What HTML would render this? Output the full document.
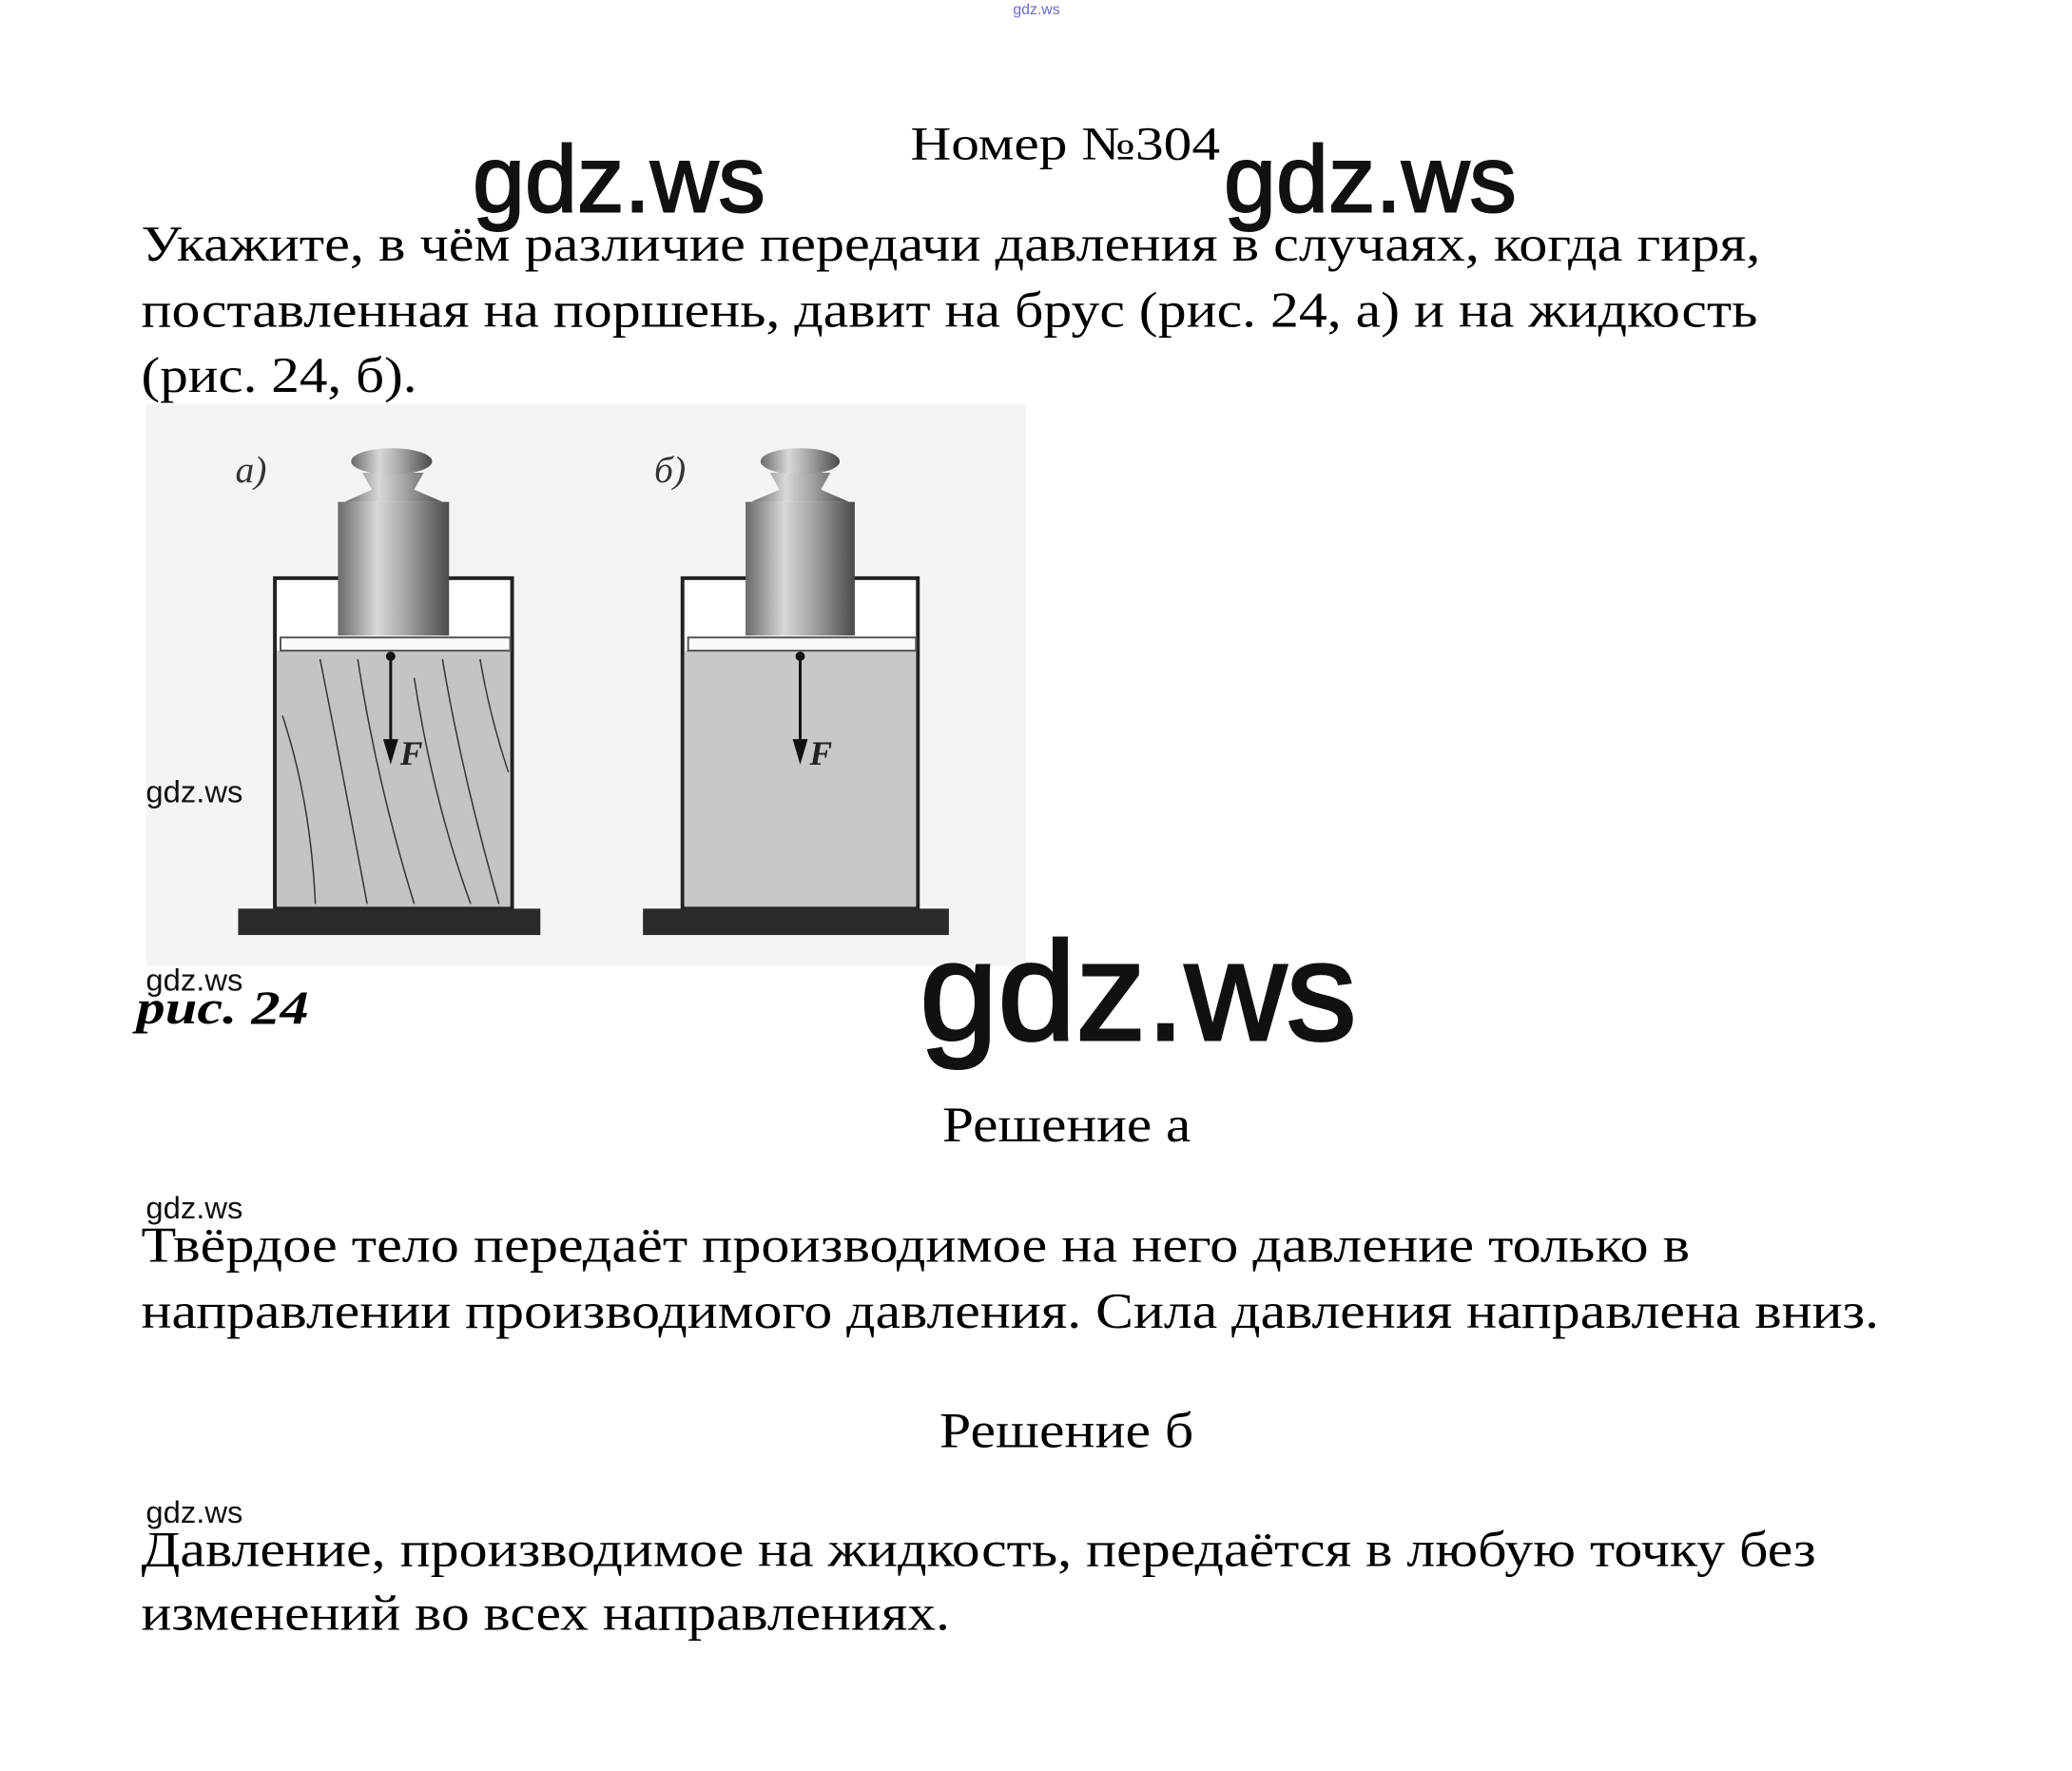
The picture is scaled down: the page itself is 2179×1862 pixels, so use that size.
<!DOCTYPE html>
<html><head><meta charset="utf-8"><style>html,body{margin:0;padding:0;background:#fff}svg{display:block}</style></head>
<body>
<svg width="2179" height="1862" viewBox="0 0 2179 1862" xmlns="http://www.w3.org/2000/svg">
<defs>
<linearGradient id="cyl" x1="0" x2="1" y1="0" y2="0">
<stop offset="0" stop-color="#6a6a6a"/><stop offset="0.35" stop-color="#d8d8d8"/><stop offset="0.6" stop-color="#a8a8a8"/><stop offset="1" stop-color="#4a4a4a"/>
</linearGradient>
</defs>
<g transform="scale(0.99)">
<g font-family="Liberation Serif, serif" fill="#000">
<text x="1101" y="15" font-family="Liberation Sans, sans-serif" font-size="16" fill="#6a6ad0" text-anchor="middle">gdz.ws</text>
<text x="967" y="169" font-size="50" textLength="329" lengthAdjust="spacingAndGlyphs">Номер №304</text>
<text x="150" y="277" font-size="53" textLength="1720" lengthAdjust="spacingAndGlyphs">Укажите, в чём различие передачи давления в случаях, когда гиря,</text>
<text x="150" y="347" font-size="53" textLength="1717" lengthAdjust="spacingAndGlyphs">поставленная на поршень, давит на брус (рис. 24, а) и на жидкость</text>
<text x="150" y="416" font-size="53" textLength="293" lengthAdjust="spacingAndGlyphs">(рис. 24, б).</text>
</g>
<rect x="155" y="429" width="935" height="597" fill="#f4f4f4"/>
<g font-family="Liberation Serif, serif" font-style="italic" font-size="40" fill="#333">
<text x="250" y="512">а)</text><text x="695" y="512">б)</text>
</g>
<rect x="292" y="614" width="252" height="350" fill="#fff" stroke="#222" stroke-width="4"/>
<rect x="294" y="691" width="248" height="272" fill="#c4c4c4"/>
<g fill="none" stroke="#333" stroke-width="1.5">
<path d="M300 760 Q330 850 335 960"/><path d="M340 700 Q360 800 390 960"/><path d="M380 700 Q400 830 440 960"/>
<path d="M440 720 Q460 850 500 960"/><path d="M470 700 Q490 820 530 960"/><path d="M510 700 Q520 760 540 820"/>
</g>
<rect x="298" y="677" width="244" height="14" fill="#fafafa" stroke="#555" stroke-width="2"/>
<rect x="359" y="533" width="118" height="142" fill="url(#cyl)"/>
<path d="M385 502 L450 502 L440 520 L470 533 L366 533 L395 520 Z" fill="url(#cyl)"/>
<ellipse cx="416" cy="490" rx="43" ry="14" fill="url(#cyl)"/>
<rect x="253" y="965" width="321" height="28" fill="#2a2a2a"/>
<circle cx="415" cy="697" r="5" fill="#111"/>
<line x1="415" y1="697" x2="415" y2="790" stroke="#111" stroke-width="3"/>
<path d="M407 785 L415 812 L423 785 Z" fill="#111"/>
<text x="425" y="812" font-family="Liberation Serif, serif" font-style="italic" font-weight="bold" font-size="36" fill="#222">F</text>
<rect x="725" y="614" width="250" height="350" fill="#fff" stroke="#222" stroke-width="4"/>
<rect x="727" y="691" width="246" height="272" fill="#c8c8c8"/>
<rect x="731" y="677" width="242" height="14" fill="#fafafa" stroke="#555" stroke-width="2"/>
<rect x="792" y="533" width="116" height="142" fill="url(#cyl)"/>
<path d="M818 502 L882 502 L872 520 L902 533 L798 533 L828 520 Z" fill="url(#cyl)"/>
<ellipse cx="850" cy="490" rx="42" ry="14" fill="url(#cyl)"/>
<rect x="683" y="965" width="325" height="28" fill="#2a2a2a"/>
<circle cx="850" cy="697" r="5" fill="#111"/>
<line x1="850" y1="697" x2="850" y2="790" stroke="#111" stroke-width="3"/>
<path d="M842 785 L850 812 L858 785 Z" fill="#111"/>
<text x="860" y="812" font-family="Liberation Serif, serif" font-style="italic" font-weight="bold" font-size="36" fill="#222">F</text>
<g font-family="Liberation Sans, sans-serif" fill="#111">
<text x="502" y="225" font-size="100" stroke="#111" stroke-width="2" textLength="311" lengthAdjust="spacingAndGlyphs">gdz.ws</text>
<text x="1300" y="225" font-size="100" stroke="#111" stroke-width="2" textLength="311" lengthAdjust="spacingAndGlyphs">gdz.ws</text>
<text x="977" y="1104" font-size="149" stroke="#111" stroke-width="3" textLength="464" lengthAdjust="spacingAndGlyphs">gdz.ws</text>
<text x="155" y="852" font-size="33" textLength="103" lengthAdjust="spacingAndGlyphs">gdz.ws</text>
<text x="155" y="1052" font-size="33" textLength="103" lengthAdjust="spacingAndGlyphs">gdz.ws</text>
<text x="155" y="1294" font-size="33" textLength="103" lengthAdjust="spacingAndGlyphs">gdz.ws</text>
<text x="155" y="1617" font-size="33" textLength="103" lengthAdjust="spacingAndGlyphs">gdz.ws</text>
</g>
<g font-family="Liberation Serif, serif" fill="#000">
<text x="145" y="1087" font-size="50" font-style="italic" font-weight="bold" textLength="183" lengthAdjust="spacingAndGlyphs">рис. 24</text>
<text x="1001" y="1212" font-size="53" textLength="264" lengthAdjust="spacingAndGlyphs">Решение а</text>
<text x="150" y="1340" font-size="53" textLength="1645" lengthAdjust="spacingAndGlyphs">Твёрдое тело передаёт производимое на него давление только в</text>
<text x="150" y="1410" font-size="53" textLength="1846" lengthAdjust="spacingAndGlyphs">направлении производимого давления. Сила давления направлена вниз.</text>
<text x="998" y="1537" font-size="53" textLength="270" lengthAdjust="spacingAndGlyphs">Решение б</text>
<text x="150" y="1663" font-size="53" textLength="1779" lengthAdjust="spacingAndGlyphs">Давление, производимое на жидкость, передаётся в любую точку без</text>
<text x="150" y="1731" font-size="53" textLength="859" lengthAdjust="spacingAndGlyphs">изменений во всех направлениях.</text>
</g>
</g>
</svg>
</body></html>
